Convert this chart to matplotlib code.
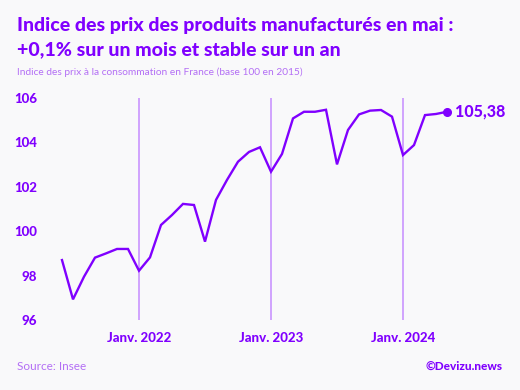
import numpy as np
import matplotlib.pyplot as plt

# monthly index, June 2021 -> May 2024
months = ["2021-06", "2021-07", "2021-08", "2021-09", "2021-10", "2021-11", "2021-12",
          "2022-01", "2022-02", "2022-03", "2022-04", "2022-05", "2022-06", "2022-07",
          "2022-08", "2022-09", "2022-10", "2022-11", "2022-12",
          "2023-01", "2023-02", "2023-03", "2023-04", "2023-05", "2023-06", "2023-07",
          "2023-08", "2023-09", "2023-10", "2023-11", "2023-12",
          "2024-01", "2024-02", "2024-03", "2024-04", "2024-05"]
values = [98.70, 96.93, 97.95, 98.81, 99.00, 99.20, 99.20,
          98.22, 98.82, 100.28, 100.73, 101.23, 101.18, 99.53,
          101.41, 102.31, 103.13, 103.57, 103.78,
          102.68, 103.48, 105.08, 105.38, 105.38, 105.47, 103.01,
          104.56, 105.26, 105.43, 105.46, 105.16,
          103.43, 103.88, 105.23, 105.28, 105.38]
year_ticks = ["2022-01", "2023-01", "2024-01"]
year_labels = ["Janv. 2022", "Janv. 2023", "Janv. 2024"]
yticks = [96, 98, 100, 102, 104, 106]
last_label = "105,38"

PURPLE = "#8000ff"
LIGHT = "#c58cff"
BG = "#f9f9fa"
FONT = "Lato"

W, H = 520, 390
fig = plt.figure(figsize=(W / 100, H / 100), dpi=100, facecolor=BG)

# axes placed in pixel coords: left 48, right 510, top 98, bottom 320
left, right, top, bottom = 48, 510, 98, 320
ax = fig.add_axes([left / W, 1 - bottom / H, (right - left) / W, (bottom - top) / H])
ax.set_facecolor(BG)

x = np.arange(len(months))
x0 = -(62 - left) / 11.0
ax.set_xlim(x0, x0 + (right - left) / 11.0)
ax.set_ylim(96, 106)

tick_pos = [months.index(m) for m in year_ticks]
for p in tick_pos:
    ax.axvline(p, color=LIGHT, lw=1.1, zorder=1)

ax.plot(x, values, color=PURPLE, lw=1.7, solid_joinstyle="miter", zorder=3, clip_on=False)
ax.plot(x[-1], values[-1], "o", color=PURPLE, ms=5.5, zorder=4, clip_on=False)
ax.annotate(last_label, (x[-1], values[-1]), xytext=(6, 0), textcoords="offset points",
            va="center", ha="left", color=PURPLE, fontsize=11.5, fontweight="black",
            family=FONT)

for s in ax.spines.values():
    s.set_visible(False)
ax.set_yticks(yticks)
ax.set_yticklabels([str(v) for v in yticks])
ax.set_xticks(tick_pos)
ax.set_xticklabels(year_labels)
ax.tick_params(length=0, colors=PURPLE, labelsize=9.5)
ax.tick_params(axis="y", pad=8)
ax.tick_params(axis="x", pad=9)
for t in ax.get_xticklabels() + ax.get_yticklabels():
    t.set_fontweight("black")
    t.set_family(FONT)

fig.text(17 / W, 1 - 25 / H, "Indice des prix des produits manufacturés en mai :",
         fontsize=14.0, fontweight="black", color=PURPLE, family=FONT, va="center")
fig.text(17 / W, 1 - 50 / H, "+0,1% sur un mois et stable sur un an",
         fontsize=14.0, fontweight="black", color=PURPLE, family=FONT, va="center")
fig.text(17 / W, 1 - 72 / H, "Indice des prix à la consommation en France (base 100 en 2015)",
         fontsize=7.3, color="#b36ef5", family=FONT, va="center")
fig.text(17 / W, 1 - 366 / H, "Source: Insee", fontsize=8.5, color="#b36ef5",
         family=FONT, va="center")
fig.text(503 / W, 1 - 366 / H, "©Devizu.news", fontsize=8.5, fontweight="black",
         color=PURPLE, family=FONT, va="center", ha="right")

fig.savefig("out.png", dpi=100, facecolor=BG)
